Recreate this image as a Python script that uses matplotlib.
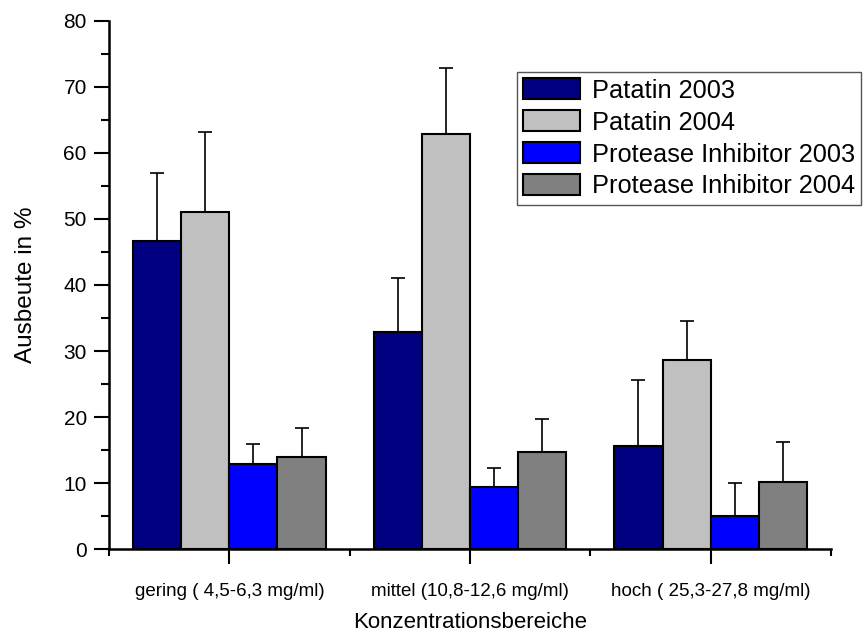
import matplotlib
matplotlib.use("Agg")
import matplotlib.pyplot as plt
from matplotlib.ticker import MultipleLocator, FixedLocator, NullFormatter
import numpy as np

plt.rcParams['font.family'] = ['Liberation Sans', 'DejaVu Sans']

categories = ["gering ( 4,5-6,3 mg/ml)", "mittel (10,8-12,6 mg/ml)", "hoch ( 25,3-27,8 mg/ml)"]
series_names = ["Patatin 2003", "Patatin 2004", "Protease Inhibitor 2003", "Protease Inhibitor 2004"]
patatin_2003 = [46.7, 32.9, 15.6]
patatin_2004 = [51.0, 62.9, 28.7]
protease_2003 = [12.95, 9.5, 5.05]
protease_2004 = [14.0, 14.8, 10.2]
patatin_2003_err = [10.3, 8.2, 10.0]
patatin_2004_err = [12.1, 10.0, 5.8]
protease_2003_err = [2.95, 2.75, 5.0]
protease_2004_err = [4.3, 4.9, 6.1]

colors = ["#000080", "#C0C0C0", "#0000FF", "#808080"]
values = [patatin_2003, patatin_2004, protease_2003, protease_2004]
errors = [patatin_2003_err, patatin_2004_err, protease_2003_err, protease_2004_err]

W, H = 865, 635
fig = plt.figure(figsize=(W / 100, H / 100), dpi=100)
ax = fig.add_axes([109 / W, 1 - 549.3 / H, (831 - 109) / W, (549.3 - 20.7) / H])

x = np.arange(len(categories))
width = 0.2
offsets = [-0.3, -0.1, 0.1, 0.3]
for vals, errs, col, name, off in zip(values, errors, colors, series_names, offsets):
    ax.bar(x + off, vals, width, color=col, edgecolor="black", linewidth=1.5,
           label=name, zorder=2)
    ax.errorbar(x + off, vals, yerr=[np.zeros(len(errs)), errs], fmt="none",
                ecolor="black", elinewidth=1.2, capsize=5, capthick=1.2, zorder=1)

ax.set_xlim(-0.5, 2.5)
ax.set_ylim(0, 80)
ax.spines["top"].set_visible(False)
ax.spines["right"].set_visible(False)
ax.spines["left"].set_linewidth(1.8)
ax.spines["bottom"].set_linewidth(1.8)

ax.yaxis.set_major_locator(MultipleLocator(10))
ax.yaxis.set_minor_locator(MultipleLocator(5))
ax.tick_params(axis="y", which="major", length=11, width=1.5, labelsize=15, pad=5)
ax.tick_params(axis="y", which="minor", length=6, width=1.5)

ax.set_xticks(x)
ax.set_xticklabels(categories)
ax.xaxis.set_minor_locator(FixedLocator([-0.5, 0.5, 1.5, 2.5]))
ax.xaxis.set_minor_formatter(NullFormatter())
ax.tick_params(axis="x", which="major", length=11, width=1.5, labelsize=13.5, pad=13)
ax.tick_params(axis="x", which="minor", length=5, width=1.5)

ax.set_ylabel("Ausbeute in %", fontsize=17.5)
ax.yaxis.set_label_coords(-0.10, 0.5)
ax.set_xlabel("Konzentrationsbereiche", fontsize=16)
ax.xaxis.set_label_coords(0.5, -0.118)

leg = ax.legend(loc="upper left", bbox_to_anchor=(516.7 / W, 1 - 71.7 / H),
                bbox_transform=fig.transFigure, borderaxespad=0,
                fontsize=18.3, frameon=True, fancybox=False, framealpha=1,
                handlelength=2.25, handleheight=0.9, handletextpad=0.44,
                labelspacing=0.3, borderpad=0.26)
leg.get_frame().set_edgecolor("#555555")
leg.get_frame().set_linewidth(1.0)

fig.savefig("out.png", dpi=100)
